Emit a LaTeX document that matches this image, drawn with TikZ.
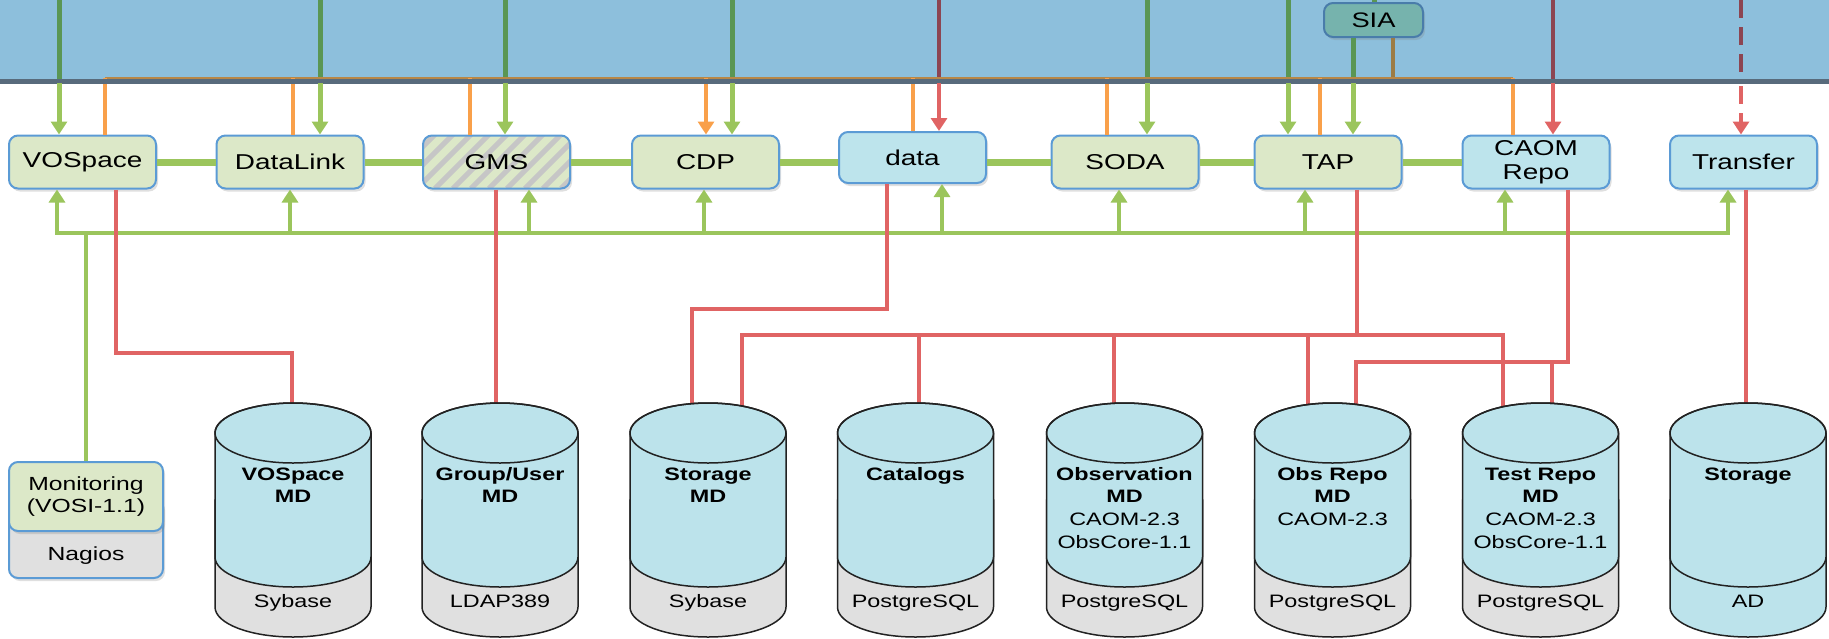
\documentclass[tikz,border=0pt]{standalone}
\usepackage{fontspec}
\setmainfont[FakeStretch=1.3]{Liberation Sans}
\usetikzlibrary{arrows.meta,shadows,calc}
\definecolor{bandc}{HTML}{8DBFDC}
\definecolor{bandedge}{HTML}{586B7C}
\definecolor{lgreen}{HTML}{DCE8C8}
\definecolor{lblue}{HTML}{BDE4EC}
\definecolor{boxedge}{HTML}{5B9BD5}
\definecolor{siafill}{HTML}{76B3AD}
\definecolor{gline}{HTML}{9BC55C}
\definecolor{dgline}{HTML}{5A9654}
\definecolor{rline}{HTML}{E06464}
\definecolor{drline}{HTML}{8C4552}
\definecolor{oline}{HTML}{F9A04A}
\definecolor{bline}{HTML}{9C7C45}
\definecolor{cylblue}{HTML}{BCE3EB}
\definecolor{cylgray}{HTML}{E0E0E0}
\definecolor{hatchc}{HTML}{C6C6C6}
\definecolor{cyledge}{HTML}{222222}
\newcommand\myfs[2]{\fontsize{#1pt}{#2pt}\selectfont}
\newcommand\dbcyl[3]{%
 \begin{scope}[shift={(#1,0)}]
  \filldraw[fill=#3, draw=cyledge, line width=1.5pt] (-78,-500) -- (-78,-607) arc[start angle=180,end angle=360,x radius=78pt,y radius=30pt] -- (78,-500) -- cycle;
  \filldraw[fill=#2, draw=cyledge, line width=1.5pt] (-78,-433) -- (-78,-557) arc[start angle=180,end angle=360,x radius=78pt,y radius=30pt] -- (78,-433) arc[start angle=0,end angle=180,x radius=78pt,y radius=30pt] -- cycle;
  \draw[draw=cyledge, line width=1.5pt] (0,-433) ellipse[x radius=78pt,y radius=30pt];
 \end{scope}}
\tikzset{
 myarr/.tip={Triangle[width=16pt,length=13pt]},
 svc/.style={draw=boxedge, line width=2pt, rounded corners=9pt, fill=lgreen,
   minimum width=147pt, minimum height=53pt, inner sep=0pt, font={\myfs{21.5}{24}},
   drop shadow={shadow xshift=2pt, shadow yshift=-3pt, opacity=0.25}},
 svcblue/.style={svc, fill=lblue},
 gmshatch/.style={path picture={\foreach \k in {0,...,12}{\draw[hatchc, line width=5pt] ([xshift=\k*18pt-60pt]path picture bounding box.south west) -- ++(70pt,70pt);}}},
 gl/.style={draw=gline, line width=5pt},
 dgl/.style={draw=dgline, line width=5pt},
 rl/.style={draw=rline, line width=4.5pt},
 drl/.style={draw=drline, line width=4.5pt},
 ol/.style={draw=oline, line width=4.5pt},
 link/.style={draw=gline, line width=7pt},
 ct/.style={anchor=base, inner sep=0pt, font={\myfs{18}{20}}},
 ctb/.style={anchor=base, inner sep=0pt, font={\myfs{18}{20}\bfseries}},
}
\begin{document}
\begin{tikzpicture}[x=1pt,y=1pt]
\useasboundingbox (0,0) rectangle (1829,-638);
% band
\fill[bandc] (0,0) rectangle (1829,-80);

% service boxes
\node[svc] (vos) at (82.5,-162) {VOSpace};
\node[svc] (dl) at (290,-162) {DataLink};
\node[svc, gmshatch] (gms) at (496.5,-162) {GMS};
\node[svc] (cdp) at (705.5,-162) {CDP};
\node[svcblue, minimum height=51pt] (data) at (912.5,-157.5) {data};
\node[svc] (soda) at (1125,-162) {SODA};
\node[svc] (tap) at (1328,-162) {TAP};
\node[svcblue, align=center] (caom) at (1536,-162) {CAOM\\Repo};
\node[svcblue] (xfer) at (1743.5,-162) {Transfer};
\node[svc, fill=siafill, draw=boxedge!80!black, minimum width=99pt, minimum height=34pt, font={\myfs{21}{24}}] (sia) at (1373.5,-20) {SIA};

% monitoring
\node[draw=boxedge, line width=2pt, rounded corners=9pt, fill=cylgray, minimum width=154pt, minimum height=80pt, inner sep=0pt,
  drop shadow={shadow xshift=2pt, shadow yshift=-3pt, opacity=0.25}] (nagbox) at (86,-538) {};
\node[svc, minimum width=154pt, minimum height=69pt, align=center, font={\myfs{19}{22}}] (mon) at (86,-496.5) {Monitoring\\(VOSI-1.1)};
\node[anchor=base, inner sep=0pt, font={\myfs{19}{22}}] (nagios) at (86,-560) {Nagios};

% band segments (dark)
\foreach \x in {59,320,505,732,1147,1288}{\draw[dgl] (\x,0) -- (\x,-80);}
\draw[dgl] (sia.south -| 1353,0) -- (1353,-80);
\draw[dgl] (1374,0) -- (sia.north -| 1374,0);
\draw[draw=bline, line width=4.5pt] (sia.south -| 1393,0) -- (1393,-78);
\draw[drl] (939,0) -- (939,-80);
\draw[drl] (1553,0) -- (1553,-80);
\draw[drl, dash pattern=on 18pt off 9pt] (1741,0) -- (1741,-80);

% orange lines
\draw[draw=bline!70!oline, line width=2.5pt] (105,-78.5) -- (1513,-78.5);
\draw[ol] (105,-78) -- (vos.north -| 105,0);
\draw[ol] (293,-78) -- (dl.north -| 293,0);
\draw[ol] (470,-78) -- (gms.north -| 470,0);
\draw[ol, -{myarr}] (706,-78) -- (cdp.north -| 706,0);
\draw[ol] (913,-78) -- (data.north -| 913,0);
\draw[ol] (1107,-78) -- (soda.north -| 1107,0);
\draw[ol] (1320,-78) -- (tap.north -| 1320,0);
\draw[ol] (1513,-78) -- (caom.north -| 1513,0);

% band edge
\draw[draw=bandedge, line width=4.5pt] (0,-81.5) -- (1829,-81.5);

% arrows from band into boxes
\draw[gl, -{myarr}] (59,-83) -- (vos.north -| 59,0);
\draw[gl, -{myarr}] (320,-83) -- (dl.north -| 320,0);
\draw[gl, -{myarr}] (505,-83) -- (gms.north -| 505,0);
\draw[gl, -{myarr}] (732,-83) -- (cdp.north -| 732,0);
\draw[gl, -{myarr}] (1147,-83) -- (soda.north -| 1147,0);
\draw[gl, -{myarr}] (1288,-83) -- (tap.north -| 1288,0);
\draw[gl, -{myarr}] (1353,-83) -- (tap.north -| 1353,0);
\draw[rl, -{myarr}] (939,-83) -- (data.north -| 939,0);
\draw[rl, -{myarr}] (1553,-83) -- (caom.north -| 1553,0);
\draw[rl, dash pattern=on 18pt off 9pt, -{myarr}] (1741,-86) -- (xfer.north -| 1741,0);

% link between services
\draw[link] (vos.east) -- (dl.west) (dl.east) -- (gms.west) (gms.east) -- (cdp.west)
  (cdp.east) -- (data.west |- cdp.east) (data.east |- soda.west) -- (soda.west)
  (soda.east) -- (tap.west) (tap.east) -- (caom.west);

% lower bus
\draw[gl, line width=4.5pt, {myarr}-{myarr}] (vos.south -| 57,0) -- (57,-233) -- (1728,-233) -- (xfer.south -| 1728,0);
\draw[gl, line width=4.5pt, -{myarr}] (290,-233) -- (dl.south -| 290,0);
\draw[gl, line width=4.5pt, -{myarr}] (529,-233) -- (gms.south -| 529,0);
\draw[gl, line width=4.5pt, -{myarr}] (704,-233) -- (cdp.south -| 704,0);
\draw[gl, line width=4.5pt, -{myarr}] (942,-233) -- (data.south -| 942,0);
\draw[gl, line width=4.5pt, -{myarr}] (1119,-233) -- (soda.south -| 1119,0);
\draw[gl, line width=4.5pt, -{myarr}] (1305,-233) -- (tap.south -| 1305,0);
\draw[gl, line width=4.5pt, -{myarr}] (1505,-233) -- (caom.south -| 1505,0);
\draw[gl, line width=4.5pt] (86,-233) -- (mon.north -| 86,0);

% database line ends
\coordinate (db1) at (292,-430);
\coordinate (db2) at (496,-430);
\coordinate (db3a) at (692,-430);
\coordinate (db3b) at (742,-430);
\coordinate (db4) at (919,-430);
\coordinate (db5) at (1114,-430);
\coordinate (db6a) at (1308,-430);
\coordinate (db6b) at (1356,-430);
\coordinate (db7a) at (1503,-430);
\coordinate (db7b) at (1552,-430);
\coordinate (db8) at (1746,-430);

% red lines to databases
\draw[rl] (vos.south -| 116,0) -- (116,-353) -- (292,-353) -- (db1);
\draw[rl] (gms.south -| 496,0) -- (db2);
\draw[rl] (data.south -| 887,0) -- (887,-309) -- (692,-309) -- (db3a);
\draw[rl] (tap.south -| 1357,0) -- (1357,-335);
\draw[rl] (db3b) -- (742,-335) -- (1503,-335) -- (db7a);
\draw[rl] (919,-335) -- (db4);
\draw[rl] (1114,-335) -- (db5);
\draw[rl] (1308,-335) -- (db6a);
\draw[rl] (caom.south -| 1568,0) -- (1568,-362) -- (1356,-362) -- (db6b);
\draw[rl] (1552,-362) -- (db7b);
\draw[rl] (xfer.south -| 1746,0) -- (db8);

% databases
\dbcyl{293}{cylblue}{cylgray}
\dbcyl{500}{cylblue}{cylgray}
\dbcyl{708}{cylblue}{cylgray}
\dbcyl{915.5}{cylblue}{cylgray}
\dbcyl{1124.5}{cylblue}{cylgray}
\dbcyl{1332.5}{cylblue}{cylgray}
\dbcyl{1540.5}{cylblue}{cylgray}
\dbcyl{1748}{cylblue}{cylblue}

\node[ctb] (t1a) at (293,-480) {VOSpace};
\node[ctb] (t1b) at (293,-502) {MD};
\node[ct] (t1c) at (293,-607) {Sybase};
\node[ctb] (t2a) at (500,-480) {Group/User};
\node[ctb] (t2b) at (500,-502) {MD};
\node[ct] (t2c) at (500,-607) {LDAP389};
\node[ctb] (t3a) at (708,-480) {Storage};
\node[ctb] (t3b) at (708,-502) {MD};
\node[ct] (t3c) at (708,-607) {Sybase};
\node[ctb] (t4a) at (915.5,-480) {Catalogs};
\node[ct] (t4c) at (915.5,-607) {PostgreSQL};
\node[ctb] (t5a) at (1124.5,-480) {Observation};
\node[ctb] (t5b) at (1124.5,-502) {MD};
\node[ct] (t5d) at (1124.5,-525) {CAOM-2.3};
\node[ct] (t5e) at (1124.5,-548) {ObsCore-1.1};
\node[ct] (t5c) at (1124.5,-607) {PostgreSQL};
\node[ctb] (t6a) at (1332.5,-480) {Obs Repo};
\node[ctb] (t6b) at (1332.5,-502) {MD};
\node[ct] (t6d) at (1332.5,-525) {CAOM-2.3};
\node[ct] (t6c) at (1332.5,-607) {PostgreSQL};
\node[ctb] (t7a) at (1540.5,-480) {Test Repo};
\node[ctb] (t7b) at (1540.5,-502) {MD};
\node[ct] (t7d) at (1540.5,-525) {CAOM-2.3};
\node[ct] (t7e) at (1540.5,-548) {ObsCore-1.1};
\node[ct] (t7c) at (1540.5,-607) {PostgreSQL};
\node[ctb] (t8a) at (1748,-480) {Storage};
\node[ct] (t8c) at (1748,-607) {AD};
\end{tikzpicture}
\end{document}
